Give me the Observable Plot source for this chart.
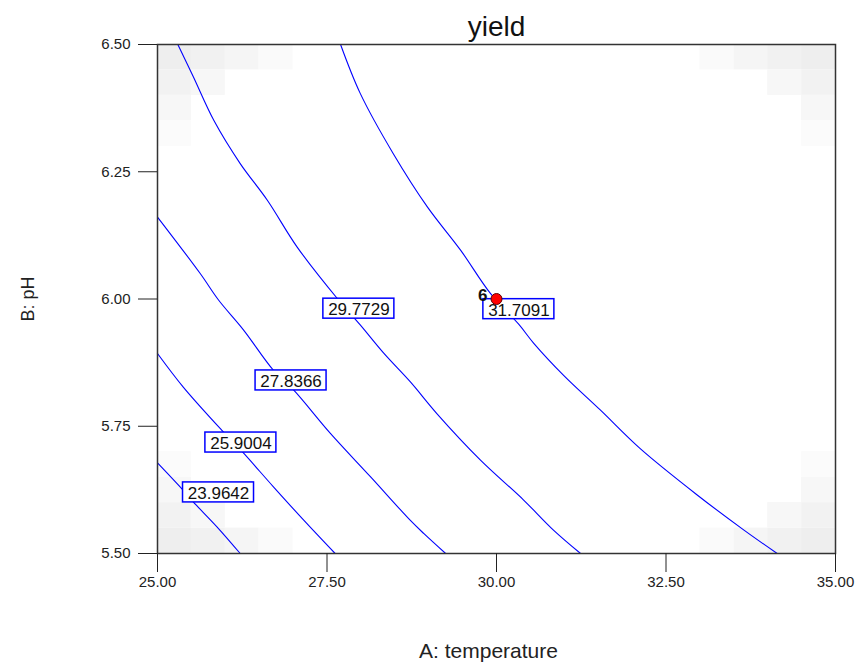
<!DOCTYPE html>
<html>
<head>
<meta charset="utf-8">
<script src="https://cdn.jsdelivr.net/npm/d3@7"></script>
<script src="https://cdn.jsdelivr.net/npm/@observablehq/plot@0.6"></script>
<style>
  html, body { margin: 0; padding: 0; background: #ffffff; }
  #chart svg { display: block; }
</style>
</head>
<body>
<div id="chart"></div>
<script>
// ---- Data ----
const xTicks = [25, 27.5, 30, 32.5, 35];
const yTicks = [5.5, 5.75, 6.0, 6.25, 6.5];

const contourLevels = ["23.9642", "25.9004", "27.8366", "29.7729", "31.7091"];

const contour1A = [25.00, 25.38, 25.53, 25.88, 26.22];
const contour1B = [5.678, 5.624, 5.601, 5.552, 5.500];

const contour2A = [25.00, 25.38, 25.95, 26.25, 26.71, 27.16, 27.62];
const contour2B = [5.893, 5.827, 5.742, 5.700, 5.631, 5.565, 5.500];

const contour3A = [25.00, 25.63, 25.90, 26.27, 26.71, 27.01, 27.55, 28.14, 28.73, 28.93, 29.25];
const contour3B = [6.161, 6.050, 5.998, 5.939, 5.860, 5.821, 5.736, 5.651, 5.565, 5.539, 5.500];

const contour4A = [25.30, 25.53, 25.83, 26.22, 26.62, 27.06, 27.67, 27.99, 28.34, 28.73, 29.12, 29.76, 30.40, 30.84, 31.24];
const contour4B = [6.500, 6.436, 6.351, 6.266, 6.194, 6.102, 5.998, 5.949, 5.893, 5.837, 5.775, 5.684, 5.605, 5.546, 5.500];

const contour5A = [27.70, 27.99, 28.48, 28.98, 29.47, 29.91, 30.33, 30.55, 30.99, 31.53, 32.12, 32.96, 33.65, 34.14];
const contour5B = [6.500, 6.404, 6.285, 6.181, 6.096, 6.011, 5.950, 5.913, 5.850, 5.782, 5.706, 5.615, 5.546, 5.500];

// contour label positions (box centres)
const labelA = [25.90, 26.23, 26.97, 27.97, 30.33];
const labelB = [5.620, 5.718, 5.840, 5.981, 5.980];

// design point
const pointA = [30.0];
const pointB = [6.0];
const pointLabel = ["6"];

// light grey shading cells (left edge A, bottom edge B, grey level)
const shadeA = [25.0, 25.5, 26.0, 26.5, 25.0, 25.5, 25.0, 25.0,
                34.5, 34.0, 33.5, 33.0, 34.5, 34.0, 34.5, 34.5,
                25.0, 25.5, 26.0, 26.5, 25.0, 25.5, 25.0, 25.0,
                34.5, 34.0, 33.5, 33.0, 34.5, 34.0, 34.5, 34.5];
const shadeB = [6.45, 6.45, 6.45, 6.45, 6.40, 6.40, 6.35, 6.30,
                6.45, 6.45, 6.45, 6.45, 6.40, 6.40, 6.35, 6.30,
                5.50, 5.50, 5.50, 5.50, 5.55, 5.55, 5.60, 5.65,
                5.50, 5.50, 5.50, 5.50, 5.55, 5.55, 5.60, 5.65];
const shadeGray = [238, 241, 245, 250, 242, 247, 247, 251,
                   238, 241, 245, 250, 242, 247, 247, 251,
                   238, 241, 245, 250, 242, 247, 247, 251,
                   238, 241, 245, 250, 242, 247, 247, 251];

// ---- Build tables ----
const contourA = [contour1A, contour2A, contour3A, contour4A, contour5A];
const contourB = [contour1B, contour2B, contour3B, contour4B, contour5B];
const lines = contourLevels.flatMap((lvl, k) =>
  contourA[k].map((a, i) => ({level: lvl, a, b: contourB[k][i]})));
const labels = contourLevels.map((t, i) => ({text: t, a: labelA[i], b: labelB[i]}));
const points = pointA.map((a, i) => ({a, b: pointB[i], label: pointLabel[i]}));
const cells = shadeA.map((a, i) => ({
  a0: a, a1: a + 0.5, b0: shadeB[i], b1: shadeB[i] + 0.05,
  fill: `rgb(${shadeGray[i]},${shadeGray[i]},${shadeGray[i]})`
}));

const blue = "#0000ff";
const font = "'Liberation Sans', Arial, sans-serif";

const chart = Plot.plot({
  width: 856,
  height: 663,
  marginLeft: 157,
  marginRight: 21,
  marginTop: 44,
  marginBottom: 110,
  style: {fontFamily: font, fontSize: "15px", background: "#ffffff", color: "#222"},
  x: {domain: [25, 35]},
  y: {domain: [5.5, 6.5]},
  color: {type: "identity"},
  marks: [
    Plot.rect(cells, {x1: "a0", x2: "a1", y1: "b0", y2: "b1", fill: "fill"}),
    Plot.line(lines, {x: "a", y: "b", z: "level", stroke: blue, strokeWidth: 1.1, curve: "catmull-rom"}),
    Plot.rect(labels, {x1: "a", x2: "a", y1: "b", y2: "b",
      insetLeft: -35.5, insetRight: -35.5, insetTop: -10, insetBottom: -10,
      fill: "white", stroke: blue, strokeWidth: 1.5}),
    Plot.text(labels, {x: "a", y: "b", text: "text", fontSize: 17, fill: "#111", dy: 1}),
    Plot.dot(points, {x: "a", y: "b", r: 5.5, fill: "#ff0000", stroke: "#600000", strokeWidth: 1}),
    Plot.text(points, {x: "a", y: "b", text: "label", textAnchor: "end", dx: -9, dy: -3,
      fontWeight: "bold", fontSize: 17, fill: "#111"}),
    Plot.frame({stroke: "#333", strokeWidth: 1.5}),
    Plot.axisX({ticks: xTicks, tickFormat: d => d.toFixed(2), tickSize: 19, tickPadding: 4,
      fontSize: 15, label: null}),
    Plot.axisY({ticks: yTicks, tickFormat: d => d.toFixed(2), tickSize: 19, tickPadding: 8,
      fontSize: 15, label: null}),
    Plot.text(["yield"], {text: d => d, frameAnchor: "top", lineAnchor: "middle", dy: -17,
      fontSize: 28, fill: "#111"}),
    Plot.text(["A: temperature"], {text: d => d, frameAnchor: "bottom", lineAnchor: "middle",
      dy: 98, dx: -8, fontSize: 21, fill: "#222"}),
    Plot.text(["B: pH"], {text: d => d, frameAnchor: "left", textAnchor: "middle", lineAnchor: "middle",
      dx: -129, rotate: -90, fontSize: 18, fill: "#222"})
  ]
});

// make sure the tick labels use the reference's size
chart.querySelectorAll("g[aria-label$='tick label']").forEach(g => {
  g.setAttribute("font-size", "15");
  g.querySelectorAll("text").forEach(t => { t.style.fontSize = "15px"; });
});

document.getElementById("chart").appendChild(chart);
</script>
</body>
</html>
